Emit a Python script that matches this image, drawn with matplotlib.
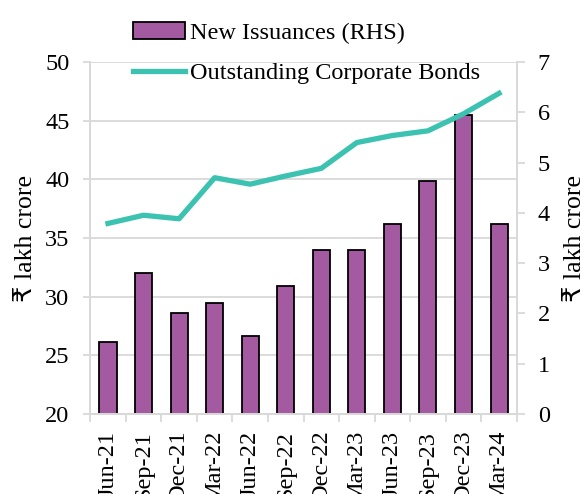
import matplotlib
matplotlib.use("Agg")
import matplotlib.pyplot as plt
from matplotlib.patches import Patch
from matplotlib.lines import Line2D

plt.rcParams['font.family'] = ['Liberation Serif', 'DejaVu Sans']

quarters = ["Jun-21", "Sep-21", "Dec-21", "Mar-22", "Jun-22", "Sep-22",
            "Dec-22", "Mar-23", "Jun-23", "Sep-23", "Dec-23", "Mar-24"]
new_issuances = [1.43, 2.80, 2.00, 2.20, 1.55, 2.54, 3.27, 3.27, 3.78, 4.63, 5.96, 3.78]
outstanding = [36.25, 36.95, 36.65, 40.15, 39.6, 40.3, 40.95, 43.15, 43.75, 44.15, 45.6, 47.35]
left_ticks = [20, 25, 30, 35, 40, 45, 50]
right_ticks = [0, 1, 2, 3, 4, 5, 6, 7]

purple = "#A45AA0"
teal = "#3CC2B0"
grey = "#D9D9D9"
fs = 17.5

def main():
    fig = plt.figure(figsize=(5.82, 4.94), dpi=100)
    ax_bar = fig.add_axes([0.155, 0.162, 0.733, 0.712])
    ax_line = ax_bar.twinx()

    x = list(range(len(quarters)))

    ax_bar.set_ylim(0, 7)
    ax_line.set_ylim(20, 50)
    ax_bar.set_xlim(-0.5, len(quarters) - 0.5)

    # gridlines follow the left scale but stay behind the bars
    ax_bar.hlines(left_ticks, 0, 1, transform=ax_line.get_yaxis_transform(),
                  color=grey, lw=1.3, zorder=0)
    ax_bar.bar(x, new_issuances, width=0.48, color=purple, edgecolor="black",
               linewidth=1.3, zorder=2)
    ax_line.plot(x, outstanding, color=teal, lw=3.8, solid_joinstyle="round", zorder=3)

    # left axis = line scale, right axis = bar scale
    ax_bar.yaxis.tick_right()
    ax_bar.yaxis.set_label_position("right")
    ax_line.yaxis.tick_left()
    ax_line.yaxis.set_label_position("left")
    ax_bar.set_yticks(right_ticks)
    ax_line.set_yticks(left_ticks)

    ax_bar.set_xticks([i - 0.5 for i in range(len(quarters) + 1)], minor=True)
    ax_bar.set_xticks(x)
    ax_bar.set_xticklabels(quarters, rotation=90, fontsize=fs)
    ax_bar.tick_params(axis="x", which="major", length=0, pad=12)
    ax_bar.tick_params(axis="x", which="minor", length=6, color=grey, width=1.3)
    ax_bar.tick_params(axis="y", labelsize=fs, length=6, color=grey, width=1.3, pad=9)
    ax_line.tick_params(axis="y", labelsize=fs, length=5, color=grey, width=1.3, pad=10)

    for a in (ax_bar, ax_line):
        for side in ("left", "right", "bottom"):
            a.spines[side].set_color(grey)
            a.spines[side].set_linewidth(1.3)
        a.spines["top"].set_visible(False)

    ax_line.set_ylabel("₹ lakh crore", fontsize=18.5, labelpad=6)
    ax_bar.set_ylabel("₹ lakh crore", fontsize=18.5, labelpad=10)

    handles = [Patch(facecolor=purple, edgecolor="black", linewidth=1.3),
               Line2D([], [], color=teal, lw=3.8)]
    fig.legend(handles, ["New Issuances (RHS)", "Outstanding Corporate Bonds"],
               loc="upper left", bbox_to_anchor=(0.228, 0.955), frameon=False,
               fontsize=fs, handlelength=2.15, handletextpad=0.2,
               labelspacing=0.75, borderpad=0, borderaxespad=0)

    fig.savefig("out.png", dpi=100)

if __name__ == "__main__":
    main()
